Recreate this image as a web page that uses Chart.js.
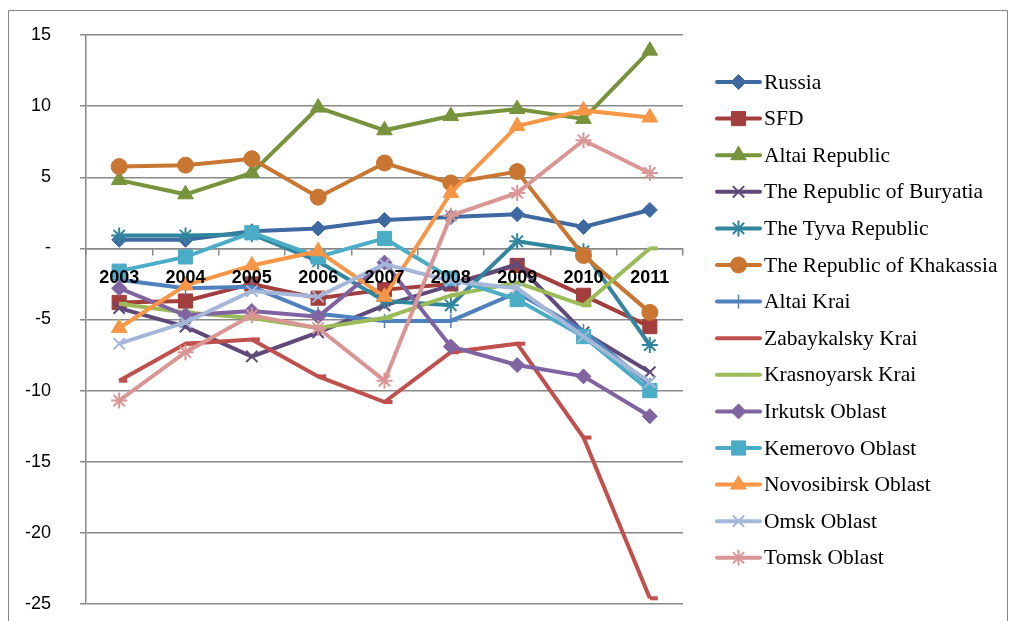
<!DOCTYPE html>
<html>
<head>
<meta charset="utf-8">
<script src="https://cdn.jsdelivr.net/npm/chart.js@4/dist/chart.umd.min.js"></script>
<style>
  body { margin: 0; background: #fff; }
  canvas { display: block; }
</style>
</head>
<body>
<canvas id="growthChart" width="1014" height="621"></canvas>
<script>
// categories and series
const years = ['2003', '2004', '2005', '2006', '2007', '2008', '2009', '2010', '2011'];

const russia      = [0.6, 0.6, 1.2, 1.4, 2.0, 2.2, 2.4, 1.5, 2.7];
const sfd         = [-3.8, -3.7, -2.5, -3.5, -2.9, -2.5, -1.2, -3.3, -5.5];
const altaiRep    = [4.8, 3.8, 5.3, 9.9, 8.3, 9.3, 9.8, 9.1, 13.9];
const buryatia    = [-4.2, -5.5, -7.6, -5.9, -4.0, -2.6, -1.1, -5.9, -8.7];
const tyva        = [0.9, 0.9, 1.0, -0.9, -3.7, -4.0, 0.5, -0.2, -6.8];
const khakassia   = [5.75, 5.85, 6.3, 3.6, 6.0, 4.6, 5.4, -0.5, -4.5];
const altaiKrai   = [-2.2, -2.8, -2.7, -4.6, -5.1, -5.1, -3.1, -5.8, -9.6];
const zabaykalsky = [-9.3, -6.7, -6.4, -9.0, -10.8, -7.3, -6.7, -13.3, -24.6];
const krasnoyarsk = [-3.9, -4.5, -4.9, -5.6, -4.9, -3.3, -2.4, -4.0, 0];
const irkutsk     = [-2.8, -4.7, -4.4, -4.8, -1.0, -6.9, -8.2, -9.0, -11.8];
const kemerovo    = [-1.6, -0.6, 1.1, -0.6, 0.7, -2.1, -3.6, -6.2, -10.0];
const novosibirsk = [-5.6, -2.6, -1.2, -0.2, -3.4, 3.9, 8.6, 9.7, 9.2];
const omsk        = [-6.7, -5.2, -3.0, -3.4, -1.1, -2.3, -2.8, -6.2, -9.4];
const tomsk       = [-10.7, -7.3, -4.7, -5.6, -9.3, 2.3, 3.9, 7.6, 5.3];

const yTicks = [15, 10, 5, 0, -5, -10, -15, -20, -25];

// series styling: name, data, colour, marker, marker radius, marker stroke
const series = [
    ['Russia', russia, '#3E6AA1', 'rectRot', 7.5, 1],
    ['SFD', sfd, '#A23E3B', 'rect', 10, 1],
    ['Altai Republic', altaiRep, '#77933C', 'triangle', 9, 1],
    ['The Republic of Buryatia', buryatia, '#5F4A7B', 'crossRot', 8, 2],
    ['The Tyva Republic', tyva, '#31859C', 'star', 8, 2],
    ['The Republic of Khakassia', khakassia, '#C97633', 'circle', 8, 1],
    ['Altai Krai', altaiKrai, '#4F81BD', 'cross', 7, 1.5],
    ['Zabaykalsky Krai', zabaykalsky, '#C0504D', 'dash', 8, 4],
    ['Krasnoyarsk Krai', krasnoyarsk, '#9BBB59', 'dash', 8, 4],
    ['Irkutsk Oblast', irkutsk, '#8064A2', 'rectRot', 7.5, 1],
    ['Kemerovo Oblast', kemerovo, '#4BACC6', 'rect', 10, 1],
    ['Novosibirsk Oblast', novosibirsk, '#F79646', 'triangle', 9, 1],
    ['Omsk Oblast', omsk, '#A5B7D9', 'crossRot', 8, 2],
    ['Tomsk Oblast', tomsk, '#D99694', 'star', 8, 2]
];

const gridGray = '#888888';

const datasets = series.map((s, i) => ({
    label: s[0],
    data: s[1],
    borderColor: s[2],
    backgroundColor: s[2],
    borderWidth: 4,
    tension: 0,
    pointStyle: s[3],
    pointRadius: s[4],
    pointHoverRadius: s[4],
    pointBackgroundColor: s[2],
    pointBorderColor: s[2],
    pointBorderWidth: s[5],
    order: series.length - i   // later series drawn on top, like the original
}));

// outer frame of the chart
const framePlugin = {
    id: 'frame',
    beforeDraw(chart) {
        const ctx = chart.ctx;
        ctx.save();
        ctx.fillStyle = '#ffffff';
        ctx.fillRect(0, 0, chart.width, chart.height);
        ctx.strokeStyle = gridGray;
        ctx.lineWidth = 1;
        ctx.strokeRect(8.5, 10.5, 999, 620);
        ctx.restore();
    }
};

// legend on the right: line segment with the series marker on it
const sideLegend = {
    id: 'sideLegend',
    afterDraw(chart) {
        const ctx = chart.ctx;
        ctx.save();
        chart.data.datasets.forEach((ds, i) => {
            const y = 82 + i * 36.6;
            ctx.strokeStyle = ds.borderColor;
            ctx.lineWidth = 4;
            ctx.lineCap = 'round';
            ctx.beginPath();
            ctx.moveTo(717, y);
            ctx.lineTo(760, y);
            ctx.stroke();
            ctx.lineCap = 'butt';
            if (ds.pointStyle !== 'dash') {
                ctx.fillStyle = ds.pointBackgroundColor;
                ctx.strokeStyle = ds.pointBorderColor;
                ctx.lineWidth = ds.pointBorderWidth;
                Chart.helpers.drawPoint(ctx, {
                    pointStyle: ds.pointStyle,
                    radius: ds.pointRadius,
                    rotation: 0,
                    borderWidth: ds.pointBorderWidth
                }, 738.5, y);
            }
            ctx.fillStyle = '#000000';
            ctx.font = '21.5px "Liberation Serif", "Times New Roman", serif';
            ctx.textBaseline = 'middle';
            ctx.textAlign = 'left';
            ctx.fillText(ds.label, 764, y + 1);
        });
        ctx.restore();
    }
};

new Chart(document.getElementById('growthChart'), {
    type: 'line',
    data: {
        labels: years,
        datasets: datasets
    },
    options: {
        responsive: false,
        animation: false,
        events: [],
        layout: {
            autoPadding: false,
            padding: { top: 35, right: 331, bottom: 17, left: 0 }
        },
        plugins: {
            legend: { display: false },
            tooltip: { enabled: false }
        },
        scales: {
            x: {
                type: 'category',
                position: { y: 0 },
                offset: true,
                afterFit(scale) {
                    scale.height = 0;
                    scale.paddingTop = 0;
                    scale.paddingBottom = 0;
                },
                grid: {
                    offset: true,
                    drawOnChartArea: false,
                    drawTicks: true,
                    tickLength: 6,
                    color: gridGray,
                    lineWidth: 1.5
                },
                border: { display: true, color: gridGray, width: 1.5 },
                ticks: {
                    z: 1,   // year labels sit on top of the lines
                    color: '#000000',
                    padding: 13,
                    maxRotation: 0,
                    font: { family: '"Liberation Sans", Arial, sans-serif', size: 18, weight: 'bold' }
                }
            },
            y: {
                min: -25,
                max: 15,
                afterFit(scale) {
                    scale.width = 86;
                    scale.paddingTop = 0;
                    scale.paddingBottom = 0;
                },
                afterBuildTicks(scale) {
                    scale.ticks = yTicks.map(v => ({ value: v }));
                },
                grid: {
                    color: gridGray,
                    lineWidth: 1.5,
                    drawTicks: true,
                    tickLength: 6
                },
                border: { display: true, color: gridGray, width: 1.5 },
                ticks: {
                    color: '#000000',
                    padding: 29,
                    font: { family: '"Liberation Sans", Arial, sans-serif', size: 18 },
                    callback: v => (v === 0 ? '-' : String(v))
                }
            }
        }
    },
    plugins: [framePlugin, sideLegend]
});
</script>
</body>
</html>
